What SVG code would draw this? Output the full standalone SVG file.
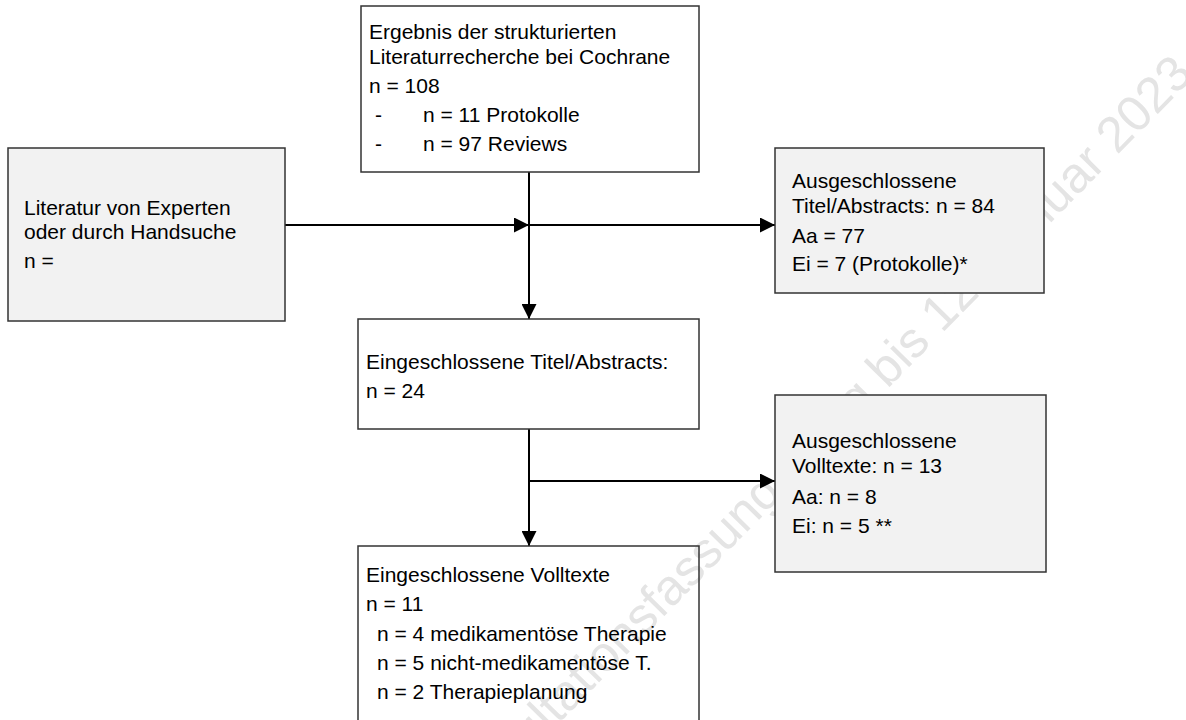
<svg xmlns="http://www.w3.org/2000/svg" width="1186" height="720" viewBox="0 0 1186 720">
<style>
.box{fill:none;stroke:#333;stroke-width:1.5}
.gbox{fill:#f2f2f2;stroke:#333;stroke-width:1.5}
text{font-family:"Liberation Sans",Arial,sans-serif;font-size:21px;fill:#000}
.wm{font-size:50px;fill:#e4e4e4}
.ln{stroke:#000;stroke-width:2;fill:none}
</style>
<defs>
<marker id="ah" viewBox="0 0 15 15" refX="15" refY="7.5" markerWidth="15" markerHeight="15" markerUnits="userSpaceOnUse" orient="auto">
<path d="M0,0 L15,7.5 L0,15 Z" fill="#000"/>
</marker>
</defs>
<rect width="1186" height="720" fill="#fff"/>
<text class="wm" text-anchor="end" transform="translate(1195,76) rotate(-45.5)">Konsultationsfassung gültig bis 12. Januar 2023</text>
<g id="connectors">
<line class="ln" x1="529" y1="172" x2="529" y2="319" marker-end="url(#ah)"/>
<line class="ln" x1="285" y1="225" x2="529" y2="225" marker-end="url(#ah)"/>
<line class="ln" x1="529" y1="225" x2="775" y2="225" marker-end="url(#ah)"/>
<line class="ln" x1="529" y1="429" x2="529" y2="546" marker-end="url(#ah)"/>
<line class="ln" x1="529" y1="481" x2="775" y2="481" marker-end="url(#ah)"/>
</g>
<g id="search">
<rect class="box" x="361" y="6" width="338" height="166"/>
<text x="369" y="39">Ergebnis der strukturierten</text>
<text x="369" y="64">Literaturrecherche bei Cochrane</text>
<text x="369" y="93">n = 108</text>
<text x="375" y="122">-</text><text x="423" y="122">n = 11 Protokolle</text>
<text x="375" y="151">-</text><text x="423" y="151">n = 97 Reviews</text>
</g>
<g id="experts">
<rect class="gbox" x="8" y="148" width="277" height="173"/>
<text x="24" y="215">Literatur von Experten</text>
<text x="24" y="239">oder durch Handsuche</text>
<text x="24" y="268">n =</text>
</g>
<g id="excluded-titles">
<rect class="gbox" x="775" y="148" width="269" height="145"/>
<text x="792" y="188">Ausgeschlossene</text>
<text x="792" y="213">Titel/Abstracts: n = 84</text>
<text x="792" y="243">Aa = 77</text>
<text x="792" y="271">Ei = 7 (Protokolle)*</text>
</g>
<g id="included-titles">
<rect class="box" x="358" y="319" width="341" height="110"/>
<text x="366" y="369">Eingeschlossene Titel/Abstracts:</text>
<text x="366" y="398">n = 24</text>
</g>
<g id="excluded-fulltexts">
<rect class="gbox" x="775" y="395" width="271" height="177"/>
<text x="792" y="448">Ausgeschlossene</text>
<text x="792" y="473">Volltexte: n = 13</text>
<text x="792" y="504">Aa: n = 8</text>
<text x="792" y="533">Ei: n = 5 **</text>
</g>
<g id="included-fulltexts">
<rect class="box" x="358" y="546" width="341" height="190"/>
<text x="366" y="582">Eingeschlossene Volltexte</text>
<text x="366" y="611">n = 11</text>
<text x="377" y="641">n = 4 medikamentöse Therapie</text>
<text x="377" y="670">n = 5 nicht-medikamentöse T.</text>
<text x="377" y="699">n = 2 Therapieplanung</text>
</g>
</svg>
